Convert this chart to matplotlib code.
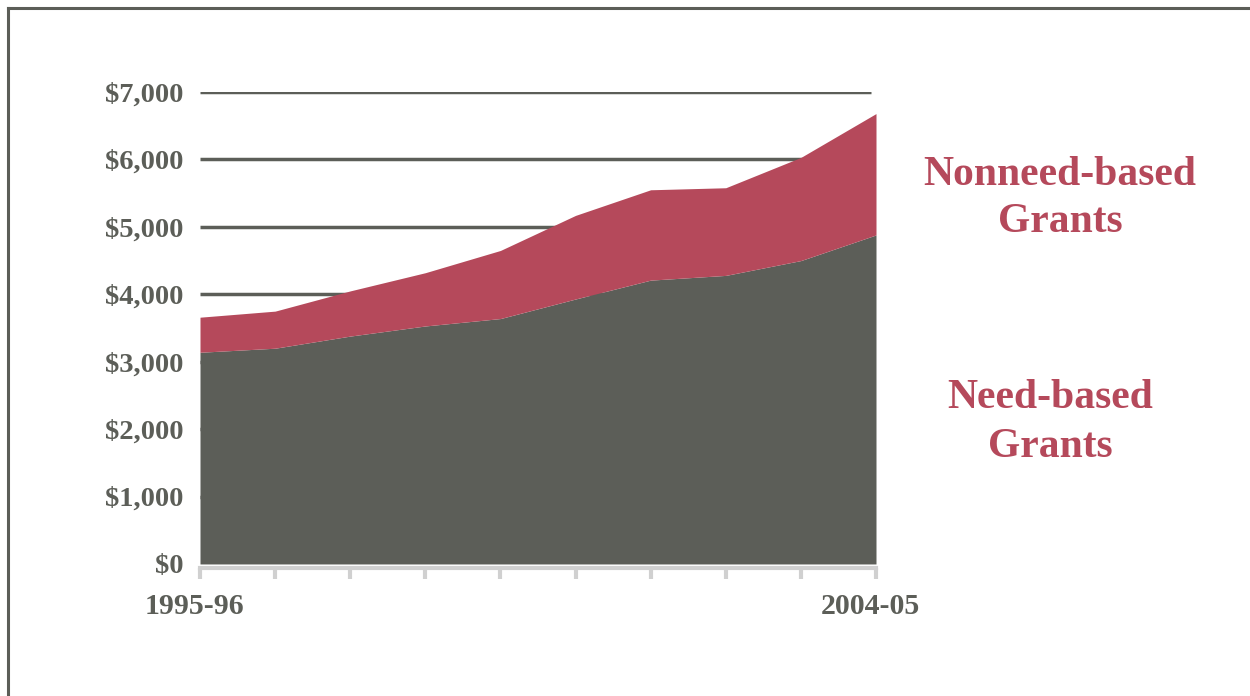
import matplotlib
matplotlib.use("Agg")
import matplotlib.pyplot as plt
from matplotlib.lines import Line2D
from matplotlib.transforms import ScaledTranslation

# average grant aid per student, 1995-96 to 2004-05
years = ["1995-96", "1996-97", "1997-98", "1998-99", "1999-00",
         "2000-01", "2001-02", "2002-03", "2003-04", "2004-05"]
need_based = [3140, 3200, 3380, 3530, 3640, 3930, 4210, 4280, 4500, 4880]
nonneed_based = [520, 550, 670, 790, 1010, 1240, 1340, 1300, 1530, 1800]
y_ticks = [0, 1000, 2000, 3000, 4000, 5000, 6000, 7000]

GRAY = "#5c5e58"
RED = "#b5495b"
LIGHT = "#d0d0d0"

plt.rcParams["font.family"] = ["Liberation Serif", "DejaVu Serif"]

fig = plt.figure(figsize=(12.5, 6.96), dpi=100)
ax = fig.add_axes([0.16, 0.1897, 0.5408, 0.6781])

x = list(range(len(years)))
total = [a + b for a, b in zip(need_based, nonneed_based)]

for v in y_ticks[1:]:
    ax.plot([0, 8.94], [v, v], color=GRAY, lw=2.5, zorder=1, solid_capstyle="butt")

ax.fill_between(x, 0, need_based, color=GRAY, lw=0, zorder=2)
ax.fill_between(x, need_based, total, color=RED, lw=0, zorder=2)

ax.set_xlim(0, len(years) - 1)
ax.set_ylim(0, 7000)

ax.set_yticks(y_ticks)
ax.set_yticklabels([f"${v:,}" for v in y_ticks])
ax.set_xticks(x)
ax.set_xticklabels([years[0]] + [""] * (len(years) - 2) + [years[-1]])

for s in ["left", "right", "top"]:
    ax.spines[s].set_visible(False)
ax.spines["bottom"].set_color(LIGHT)
ax.spines["bottom"].set_linewidth(3)
ax.spines["bottom"].set_position(("outward", 3))

ax.tick_params(axis="y", length=0, pad=12, labelsize=20.5, labelcolor=GRAY)
ax.tick_params(axis="x", length=8, width=3, color=LIGHT, pad=10,
               labelsize=21.5, labelcolor=GRAY)
shift = ScaledTranslation(-6 / 100, 0, fig.dpi_scale_trans)
for lbl in ax.get_xticklabels():
    lbl.set_fontweight("bold")
    lbl.set_transform(lbl.get_transform() + shift)
for lbl in ax.get_yticklabels():
    lbl.set_fontweight("bold")

fig.text(0.848, 0.7148, "Nonneed-based\nGrants", color=RED, fontsize=30,
         fontweight="bold", ha="center", va="center", linespacing=1.3)
fig.text(0.84, 0.393, "Need-based\nGrants", color=RED, fontsize=30,
         fontweight="bold", ha="center", va="center", linespacing=1.35)

# frame around the slide
fig.add_artist(Line2D([0.0066, 1.0], [0.988, 0.988], color=GRAY, lw=2.2,
                      transform=fig.transFigure))
fig.add_artist(Line2D([0.0066, 0.0066], [0.0, 0.988], color=GRAY, lw=2.2,
                      transform=fig.transFigure))

fig.savefig("out.png", dpi=100)
